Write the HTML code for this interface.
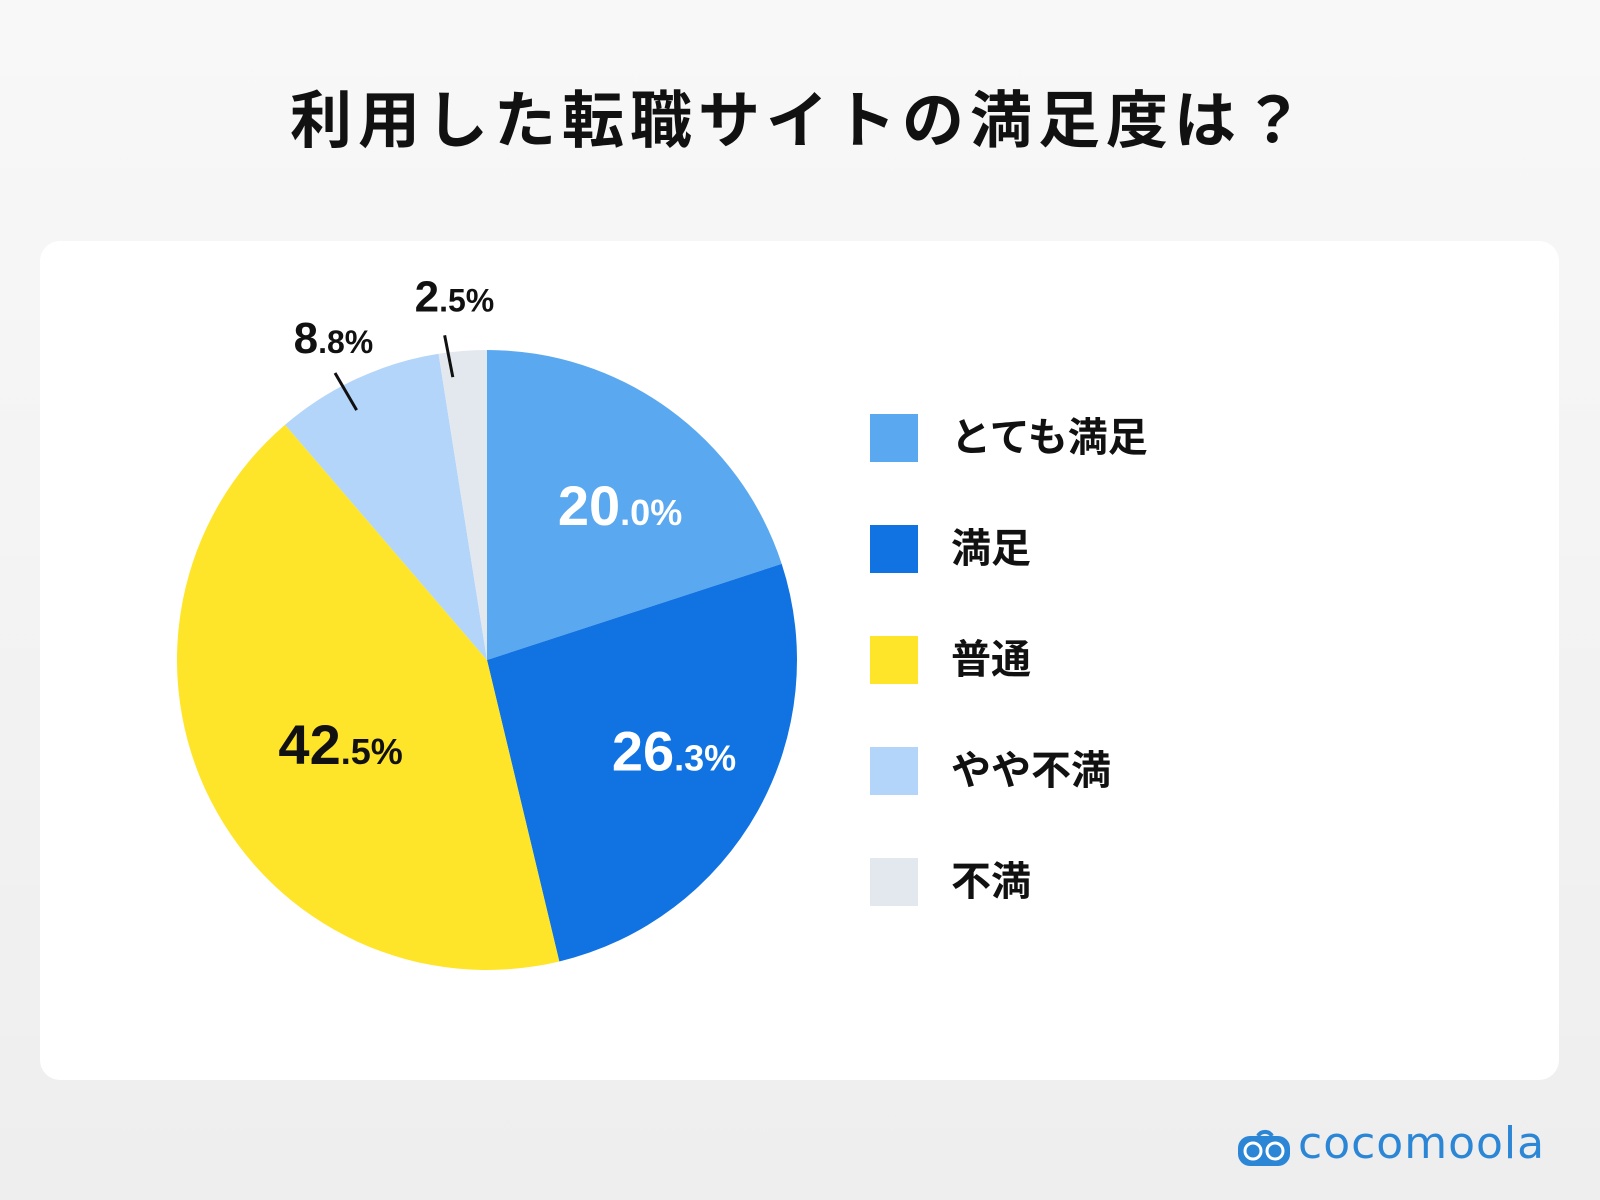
<!DOCTYPE html>
<html><head><meta charset="utf-8">
<style>
html,body{margin:0;padding:0}
body{width:1600px;height:1200px;overflow:hidden;background:linear-gradient(#f8f8f8,#eeeeee);font-family:"Liberation Sans","Noto Sans CJK JP",sans-serif;position:relative}
#title{position:absolute;left:0;width:1600px;top:70px;text-align:center;font-size:62px;font-weight:bold;color:#111;letter-spacing:6px}
#card{position:absolute;left:40px;top:241px;width:1519px;height:839px;background:#fff;border-radius:20px}
svg{position:absolute;left:0;top:0}
.leg{position:absolute;left:870px;width:48px;height:48px}
.legt{position:absolute;left:951px;font-size:40px;font-weight:bold;color:#111;line-height:48px}
#logo{position:absolute;left:1238px;top:1118px;font-size:44px;color:#2c86d6;font-family:"DejaVu Sans",sans-serif;letter-spacing:1px}
</style></head><body>
<div id="title">利用した転職サイトの満足度は？</div>
<div id="card"></div>
<svg id="chart" width="1600" height="1200"></svg>
<div id="legend"></div>
<div id="logo"><svg width="52" height="46" style="position:absolute;left:0;top:4px;"><path d="M20 14 A8 8 0 0 1 34 14" stroke="#2c86d6" stroke-width="4" fill="none"/><rect x="0" y="14" width="52" height="30" rx="12" fill="#2c86d6"/><circle cx="15" cy="29" r="8" fill="none" stroke="#fff" stroke-width="3"/><circle cx="37" cy="29" r="8" fill="none" stroke="#fff" stroke-width="3"/></svg><span style="margin-left:60px">cocomoola</span></div>
<script>
const categories=["とても満足","満足","普通","やや不満","不満"];
const values=[20.0,26.3,42.5,8.8,2.5];
const colors=["#5aa8f0","#1173e2","#fee52a","#b3d5f9","#e3e8ef"];
const labelText=["#fff","#fff","#111","#111","#111"];
const NS="http://www.w3.org/2000/svg";
const svg=document.getElementById('chart');
const cx=487,cy=660,r=310;
const total=values.reduce((a,b)=>a+b,0);
function pt(frac,rad){const a=frac*2*Math.PI-Math.PI/2;return [cx+rad*Math.cos(a),cy+rad*Math.sin(a)];}
let acc=0;
values.forEach((v,i)=>{
  const f0=acc/total,f1=(acc+v)/total;acc+=v;
  const p0=pt(f0,r),p1=pt(f1,r);
  const path=document.createElementNS(NS,'path');
  path.setAttribute('d',`M${cx},${cy}L${p0[0]},${p0[1]}A${r},${r} 0 ${f1-f0>0.5?1:0} 1 ${p1[0]},${p1[1]}Z`);
  path.setAttribute('fill',colors[i]);
  
  
  svg.appendChild(path);
  const fm=(f0+f1)/2;
  const s=v.toFixed(1).split('.');
  let lx,ly;
  if(v>10){const lp=pt(fm,r*0.61);lx=lp[0]+22;ly=lp[1]+18;}
  else{const fl=fm-0.012;const a=pt(fl,r*0.93),b=pt(fl,r*1.06);
    const ln=document.createElementNS(NS,'line');
    ln.setAttribute('x1',a[0]+10);ln.setAttribute('y1',a[1]+2);ln.setAttribute('x2',b[0]+8);ln.setAttribute('y2',b[1]);
    ln.setAttribute('stroke','#111');ln.setAttribute('stroke-width','3');
    
    
    svg.appendChild(ln);const lp=pt(fl,r*1.17);lx=lp[0]+23;ly=lp[1]+10;}
  const t=document.createElementNS(NS,'text');
  t.setAttribute('x',lx);t.setAttribute('y',ly);
  t.setAttribute('text-anchor','middle');t.setAttribute('fill',labelText[i]);
  t.setAttribute('font-weight','bold');t.setAttribute('font-family','Liberation Sans, sans-serif');
  
  
  const big=v>10?56:44,small=v>10?36:32;
  t.innerHTML=`<tspan font-size="${big}">${s[0]}</tspan><tspan font-size="${small}">.${s[1]}%</tspan>`;
  svg.appendChild(t);
});
const leg=document.getElementById('legend');
categories.forEach((c,i)=>{
  const sq=document.createElement('div');sq.className='leg';sq.style.top=(414+i*111)+'px';sq.style.background=colors[i];
  
  
  leg.appendChild(sq);
  const tx=document.createElement('div');tx.className='legt';tx.style.top=(414+i*111)+'px';tx.textContent=c;
  
  
  leg.appendChild(tx);
});
</script>
</body></html>
